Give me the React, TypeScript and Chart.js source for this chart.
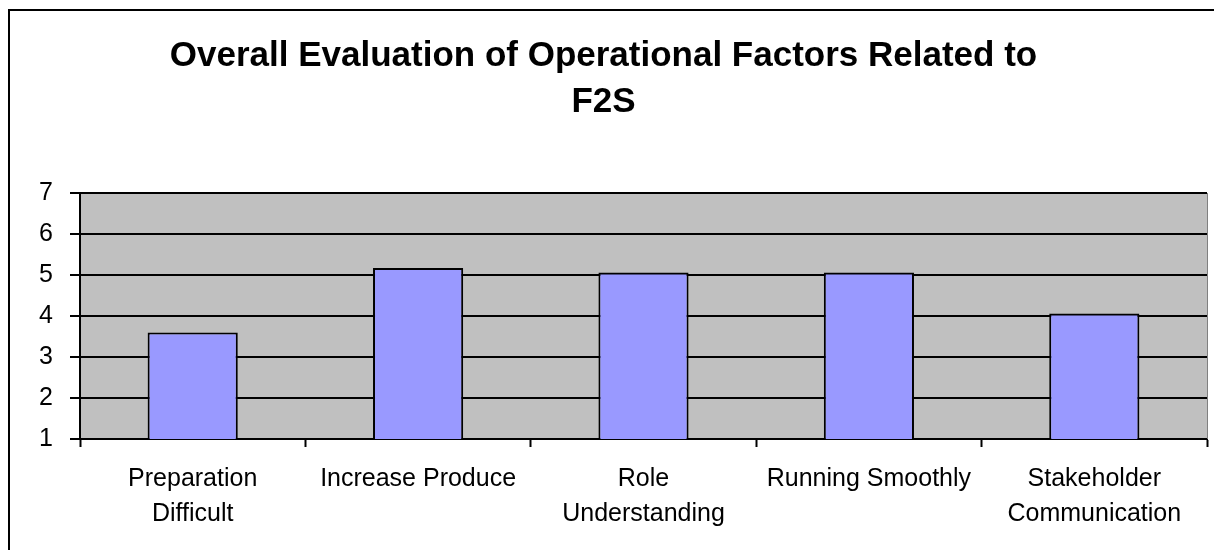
import React, { useEffect, useRef } from "react";
import { Chart, registerables } from "chart.js";

Chart.register(...registerables);

const categories: string[][] = [
  ["Preparation", "Difficult"],
  ["Increase Produce"],
  ["Role", "Understanding"],
  ["Running Smoothly"],
  ["Stakeholder", "Communication"],
];
const values: number[] = [3.6, 5.17, 5.06, 5.06, 4.06];
const titleLines: string[] = ["Overall Evaluation of Operational Factors Related to", "F2S"];
const yMin = 1;
const yMax = 7;

const FONT = "'Liberation Sans', Arial, sans-serif";

const framePlugin = {
  id: "frame",
  beforeDraw(chart: any) {
    const { ctx, chartArea } = chart;
    ctx.save();
    ctx.fillStyle = "#ffffff";
    ctx.fillRect(0, 0, chart.width, chart.height);
    ctx.fillStyle = "#C0C0C0";
    ctx.fillRect(chartArea.left, chartArea.top, chartArea.right - chartArea.left, chartArea.bottom - chartArea.top);
    ctx.strokeStyle = "#000000";
    ctx.lineWidth = 2;
    ctx.beginPath();
    ctx.moveTo(9, 560);
    ctx.lineTo(9, 10);
    ctx.lineTo(1300, 10);
    ctx.stroke();
    ctx.restore();
  },
  afterDatasetsDraw(chart: any) {
    const { ctx, chartArea } = chart;
    ctx.save();
    ctx.strokeStyle = "#808080";
    ctx.lineWidth = 1;
    ctx.beginPath();
    ctx.moveTo(chartArea.right + 0.5, chartArea.top);
    ctx.lineTo(chartArea.right + 0.5, chartArea.bottom);
    ctx.stroke();
    ctx.restore();
  },
};

export default function App() {
  const ref = useRef<HTMLCanvasElement | null>(null);
  useEffect(() => {
    if (!ref.current) return;
    const chart = new Chart(ref.current, {
      type: "bar",
      data: {
        labels: categories,
        datasets: [
          {
            data: values,
            backgroundColor: "#9999FF",
            borderColor: "#000000",
            borderWidth: 2,
            categoryPercentage: 0.8,
            barPercentage: 0.5,
          },
        ],
      },
      options: {
        animation: false,
        responsive: false,
        layout: { padding: { left: 0, right: 7, top: 0, bottom: 0 } },
        plugins: {
          legend: { display: false },
          tooltip: { enabled: false },
          title: {
            display: true,
            text: titleLines,
            color: "#000000",
            font: { family: FONT, size: 35, weight: "bold", lineHeight: 1.3 },
            padding: { top: 34, bottom: 68 },
          },
        },
        scales: {
          x: {
            grid: {
              offset: true,
              drawOnChartArea: false,
              drawTicks: true,
              tickLength: 8,
              tickColor: "#000000",
              tickWidth: 2,
            },
            border: { display: true, color: "#000000", width: 2 },
            ticks: {
              color: "#000000",
              font: { family: FONT, size: 25, lineHeight: 1.4 },
              padding: 15,
              maxRotation: 0,
              autoSkip: false,
            },
            afterFit(scale: any) {
              scale.height = 550 - 439;
            },
          },
          y: {
            min: yMin,
            max: yMax,
            ticks: {
              stepSize: 1,
              color: "#000000",
              font: { family: FONT, size: 25 },
              padding: 17,
            },
            grid: {
              color: "#000000",
              lineWidth: 2,
              drawTicks: true,
              tickLength: 10,
              tickColor: "#000000",
            },
            border: { display: true, color: "#000000", width: 2 },
            afterFit(scale: any) {
              scale.width = 80;
            },
          },
        },
      },
      plugins: [framePlugin],
    });
    return () => chart.destroy();
  }, []);
  return (
    <canvas
      ref={ref}
      width={1214}
      height={550}
      style={{ position: "fixed", left: 0, top: 0, width: 1214, height: 550 }}
    />
  );
}
